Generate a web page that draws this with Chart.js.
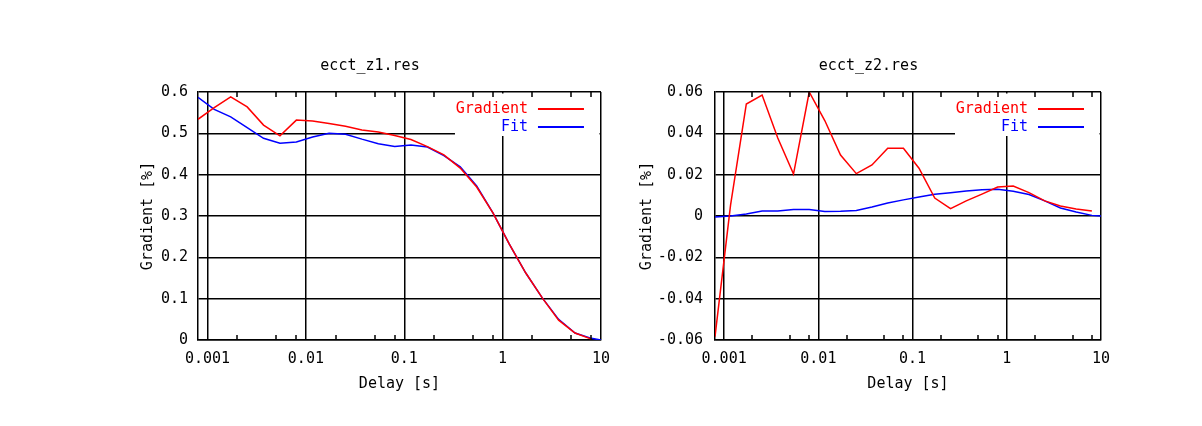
<!DOCTYPE html>
<html>
<head>
<meta charset="utf-8">
<script src="https://cdn.jsdelivr.net/npm/chart.js@4.4.1/dist/chart.umd.min.js"></script>
<style>
  body { margin: 0; background: #fff; }
  #c1 { position: absolute; left: 0; top: 0; }
  #c2 { position: absolute; left: 620px; top: 0; }
</style>
</head>
<body>
<canvas id="c1" width="620" height="426"></canvas>
<canvas id="c2" width="582" height="426"></canvas>
<script>
// delay samples [s], shared by both files
const delays = [0.0008, 0.00117, 0.00172, 0.00253, 0.00371, 0.00545, 0.008, 0.0117, 0.0172, 0.0253,
  0.0371, 0.0545, 0.08, 0.117, 0.172, 0.253, 0.371, 0.545, 0.8, 1.17, 1.72, 2.53, 3.71, 5.45, 8, 10];

// ecct_z1.res
const z1Gradient = [0.534, 0.562, 0.588, 0.564, 0.52, 0.494, 0.532, 0.53, 0.524, 0.517, 0.508, 0.503, 0.495,
  0.485, 0.468, 0.448, 0.416, 0.37, 0.307, 0.232, 0.162, 0.102, 0.048, 0.017, 0.002, null];
const z1Fit = [0.587, 0.558, 0.54, 0.514, 0.488, 0.476, 0.479, 0.491, 0.5, 0.498, 0.486, 0.475, 0.468,
  0.472, 0.467, 0.446, 0.419, 0.373, 0.307, 0.232, 0.162, 0.102, 0.05, 0.017, 0.004, 0];

// ecct_z2.res
const z2Gradient = [-0.0584, 0.0053, 0.0542, 0.0585, 0.0377, 0.0203, 0.06, 0.0462, 0.0295, 0.0205, 0.0247,
  0.0328, 0.0328, 0.0231, 0.0087, 0.0036, 0.0073, 0.0106, 0.014, 0.0145, 0.0113, 0.0073, 0.0048, 0.0034, 0.0024, null];
const z2Fit = [-0.0005, 0, 0.001, 0.0024, 0.0024, 0.0031, 0.0032, 0.0022, 0.0023, 0.0027, 0.0044, 0.0063,
  0.0078, 0.0092, 0.0105, 0.0113, 0.0121, 0.0127, 0.0129, 0.012, 0.0104, 0.0073, 0.0039, 0.0019, 0.0003, 0];

const xTicks = [0.001, 0.01, 0.1, 1, 10];
const xMinorTicks = [0.002, 0.005, 0.008, 0.02, 0.05, 0.08, 0.2, 0.5, 0.8, 2, 5, 8];
const z1YTicks = [0, 0.1, 0.2, 0.3, 0.4, 0.5, 0.6];
const z2YTicks = [-0.06, -0.04, -0.02, 0, 0.02, 0.04, 0.06];

const FONT = "'DejaVu Sans Mono', monospace";

// gnuplot style key: opaque box, label then line sample; plus minor x tics
const keyBox = {
  id: 'keyBox',
  beforeDatasetsDraw(chart) {
    const a = chart.chartArea, ctx = chart.ctx;
    ctx.save();
    ctx.fillStyle = '#fff';
    ctx.fillRect(a.right - 146, a.top + 1.5, 144.5, 42.5);
    ctx.restore();
  },
  afterDatasetsDraw(chart) {
    const a = chart.chartArea, ctx = chart.ctx, xs = chart.scales.x;
    ctx.save();
    ctx.strokeStyle = '#000';
    ctx.lineWidth = 1.5;
    ctx.beginPath();
    xMinorTicks.forEach(v => {
      const px = Math.round(xs.getPixelForValue(v));
      ctx.moveTo(px, a.top); ctx.lineTo(px, a.top + 5);
      ctx.moveTo(px, a.bottom); ctx.lineTo(px, a.bottom - 5);
    });
    ctx.stroke();
    ctx.font = '15px ' + FONT;
    ctx.textAlign = 'right';
    ctx.textBaseline = 'middle';
    chart.data.datasets.forEach((ds, i) => {
      const y = Math.round(a.top + 17 + i * 18);
      ctx.fillStyle = ds.borderColor;
      ctx.fillText(ds.label, a.right - 73, y);
      ctx.strokeStyle = ds.borderColor;
      ctx.lineWidth = 2;
      ctx.beginPath();
      ctx.moveTo(a.right - 63, y);
      ctx.lineTo(a.right - 17, y);
      ctx.stroke();
    });
    ctx.restore();
  }
};

function makeChart(id, title, gradient, fit, yTicks, padLeft, padRight, yWidth, tickPad) {
  const pts = arr => delays.map((d, i) => ({ x: d, y: arr[i] }));
  return new Chart(document.getElementById(id), {
    type: 'line',
    data: {
      datasets: [
        { label: 'Gradient', data: pts(gradient), borderColor: '#ff0000', borderWidth: 1.5, pointRadius: 0, tension: 0 },
        { label: 'Fit', data: pts(fit), borderColor: '#0000ff', borderWidth: 1.5, pointRadius: 0, tension: 0 }
      ]
    },
    options: {
      responsive: false,
      animation: false,
      devicePixelRatio: 1,
      layout: { padding: { left: padLeft, right: padRight, top: 0, bottom: 0 } },
      plugins: {
        legend: { display: false },
        tooltip: { enabled: false },
        title: {
          display: true, text: title, color: '#000',
          font: { family: FONT, size: 15, weight: 'normal' },
          padding: { top: 57, bottom: 17 }
        }
      },
      scales: {
        x: {
          type: 'logarithmic', min: 0.0008, max: 10,
          afterBuildTicks: s => { s.ticks = xTicks.map(v => ({ value: v })); },
          afterFit: s => { s.height = 86; },
          ticks: { color: '#000', font: { family: FONT, size: 15 }, padding: 10, maxRotation: 0, autoSkip: false,
            callback: v => String(v) },
          grid: { color: '#000', lineWidth: 1.5, drawTicks: false },
          border: { color: '#000', width: 1.5 },
          title: { display: true, text: 'Delay [s]', color: '#000', font: { family: FONT, size: 15 },
            padding: { top: 0, bottom: 33 } }
        },
        y: {
          min: yTicks[0], max: yTicks[yTicks.length - 1],
          afterBuildTicks: s => { s.ticks = yTicks.map(v => ({ value: v })); },
          afterFit: s => { s.width = yWidth; },
          ticks: { color: '#000', font: { family: FONT, size: 15 }, padding: tickPad, callback: v => String(v) },
          grid: { color: '#000', lineWidth: 1.5, drawTicks: false },
          border: { color: '#000', width: 1.5 },
          title: { display: true, text: 'Gradient [%]', color: '#000', font: { family: FONT, size: 15 },
            padding: { top: 2, bottom: 0 } }
        }
      }
    },
    plugins: [keyBox]
  });
}

makeChart('c1', 'ecct_z1.res', z1Gradient, z1Fit, z1YTicks, 137, 17, 61, 10);
makeChart('c2', 'ecct_z2.res', z2Gradient, z2Fit, z2YTicks, 16, 101, 79, 12);
</script>
</body>
</html>
